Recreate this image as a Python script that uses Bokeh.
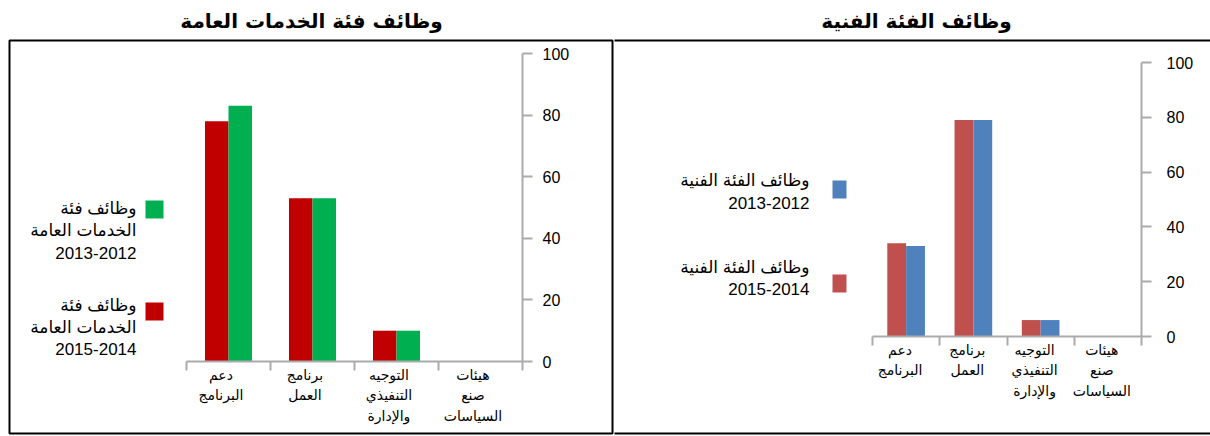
from bokeh.plotting import figure
from bokeh.models import Range1d, LinearAxis, FixedTicker, Label, BoxAnnotation
from bokeh.layouts import row
from bokeh.embed import file_html
from bokeh.resources import INLINE

# ---------------- data ----------------
categories = ["دعم\nالبرنامج", "برنامج\nالعمل", "التوجيه\nالتنفيذي\nوالإدارة", "هيئات\nصنع\nالسياسات"]
y_ticks = [0, 20, 40, 60, 80, 100]

gs_title = "وظائف فئة الخدمات العامة"
gs_2015 = [78, 53, 10, 0]   # red, left bar
gs_2013 = [83, 53, 10, 0]   # green, right bar
gs_legend_2013 = ["وظائف فئة", "الخدمات العامة", "2013-2012"]
gs_legend_2015 = ["وظائف فئة", "الخدمات العامة", "2015-2014"]

pr_title = "وظائف الفئة الفنية"
pr_2015 = [34, 79, 6, 0]    # red, left bar
pr_2013 = [33, 79, 6, 0]    # blue, right bar
pr_legend_2013 = ["وظائف الفئة الفنية", "2013-2012"]
pr_legend_2015 = ["وظائف الفئة الفنية", "2015-2014"]

LATIN = "'Liberation Sans', 'DejaVu Sans', sans-serif"
ARAB = "'DejaVu Sans', sans-serif"
AXIS_GRAY = "#ABABAB"
H = 436


def make_panel(cfg):
    W = cfg["width"]
    x0 = cfg["x0"]
    n = len(categories)
    # pixel geometry of the plotting area (page coordinates)
    ax_l, ax_r, ax_t, ax_b = cfg["frame"]
    ax_l -= x0
    ax_r -= x0
    kx = (ax_r - ax_l) / n          # px per category
    ky = (ax_b - ax_t) / 100.0      # px per unit
    x_range = Range1d(-ax_l / kx, (W - ax_l) / kx)
    y_range = Range1d(-(H - ax_b) / ky, 100 + ax_t / ky)
    p = figure(width=W, height=H, x_range=x_range, y_range=y_range,
               output_backend="svg", toolbar_location=None,
               x_axis_location=None, y_axis_location=None,
               min_border=0)
    p.grid.visible = False
    p.outline_line_color = None
    p.background_fill_color = "white"
    p.border_fill_color = "white"

    def sx(px):
        return px - x0

    def sy(py):
        return H - py

    # y axis on the right
    yax = LinearAxis(ticker=FixedTicker(ticks=y_ticks), fixed_location=n, bounds=(0, 100))
    yax.axis_line_color = AXIS_GRAY
    yax.axis_line_width = 2
    yax.major_tick_line_color = AXIS_GRAY
    yax.major_tick_line_width = 2
    yax.major_tick_in = 0
    yax.major_tick_out = 10
    yax.minor_tick_line_color = None
    yax.major_label_standoff = cfg["ystandoff"]
    yax.major_label_text_font = LATIN
    yax.major_label_text_font_size = "16px"
    yax.major_label_text_color = "black"
    p.add_layout(yax, "right")

    # x axis: labels near category centres, ticks at category boundaries
    label_pos = [i + 0.5 - 0.09 for i in range(n)]
    xax = LinearAxis(ticker=FixedTicker(ticks=label_pos, minor_ticks=list(range(n + 1))),
                     fixed_location=0, bounds=(0, n))
    xax.major_label_overrides = {c: lab for c, lab in zip(label_pos, categories)}
    xax.axis_line_color = AXIS_GRAY
    xax.axis_line_width = 2
    xax.major_tick_line_color = None
    xax.major_tick_in = 0
    xax.major_tick_out = 0
    xax.minor_tick_line_color = AXIS_GRAY
    xax.minor_tick_line_width = 2
    xax.minor_tick_in = 0
    xax.minor_tick_out = 9
    xax.major_label_standoff = cfg["xstandoff"]
    xax.major_label_text_font = ARAB
    xax.major_label_text_font_size = cfg["xfont"]
    xax.major_label_text_line_height = 1.3
    xax.major_label_text_color = "black"
    p.add_layout(xax, "below")

    # bars
    centers = [i + 0.5 for i in range(n)]
    w = 0.28
    left_x = [c - w / 2 for c in centers]
    right_x = [c + w / 2 for c in centers]
    p.vbar(x=left_x, top=cfg["left_vals"], bottom=0, width=w,
           fill_color=cfg["left_color"], line_color=None)
    p.vbar(x=right_x, top=cfg["right_vals"], bottom=0, width=w,
           fill_color=cfg["right_color"], line_color=None)

    # frame box
    bl, br, bt, bb = cfg["box"]
    p.add_layout(BoxAnnotation(left=sx(bl), right=sx(br), top=sy(bt), bottom=sy(bb),
                               left_units="screen", right_units="screen",
                               top_units="screen", bottom_units="screen",
                               fill_alpha=0, line_color="black", line_alpha=1, line_width=2))

    # title
    tx, ty = cfg["title_pos"]
    p.add_layout(Label(x=sx(tx), y=sy(ty), x_units="screen", y_units="screen",
                       text=cfg["title"], text_align="center", text_baseline="middle",
                       text_font=ARAB, text_font_size="20px", text_font_style="bold",
                       text_color="black"))

    # legend entries
    for lines, color, sq, ys in cfg["legend"]:
        l, r, t, b = sq
        p.add_layout(BoxAnnotation(left=sx(l), right=sx(r), top=sy(t), bottom=sy(b),
                                   left_units="screen", right_units="screen",
                                   top_units="screen", bottom_units="screen",
                                   fill_color=color, fill_alpha=1, line_color=None))
        for line, yy in zip(lines, ys):
            p.add_layout(Label(x=sx(cfg["legend_x"]), y=sy(yy), x_units="screen", y_units="screen",
                               text=line, text_align="right", text_baseline="middle",
                               text_font=LATIN, text_font_size="17px", text_color="black"))
    return p


left_cfg = dict(
    width=614, x0=0, frame=(186, 522, 53, 361), ystandoff=10, xstandoff=-4, xfont="14px",
    left_vals=gs_2015, right_vals=gs_2013, left_color="#C00000", right_color="#00B050",
    box=(9, 612, 40, 433), title=gs_title, title_pos=(311, 20), legend_x=136,
    legend=[(gs_legend_2013, "#00B050", (145, 163, 200, 218), (208, 230, 252)),
            (gs_legend_2015, "#C00000", (145, 163, 302, 320), (305, 327, 348))],
)
right_cfg = dict(
    width=596, x0=614, frame=(872, 1141, 62, 336), ystandoff=15, xstandoff=-4, xfont="14px",
    left_vals=pr_2015, right_vals=pr_2013, left_color="#C0504D", right_color="#4F81BD",
    box=(600, 1240, 40, 433), title=pr_title, title_pos=(916, 20), legend_x=809,
    legend=[(pr_legend_2013, "#4F81BD", (832, 846, 180, 198), (180, 202)),
            (pr_legend_2015, "#C0504D", (832, 846, 274, 292), (267, 288))],
)

p1 = make_panel(left_cfg)
p2 = make_panel(right_cfg)
layout = row(p1, p2)

open("out.html", "w").write(file_html(layout, INLINE))
